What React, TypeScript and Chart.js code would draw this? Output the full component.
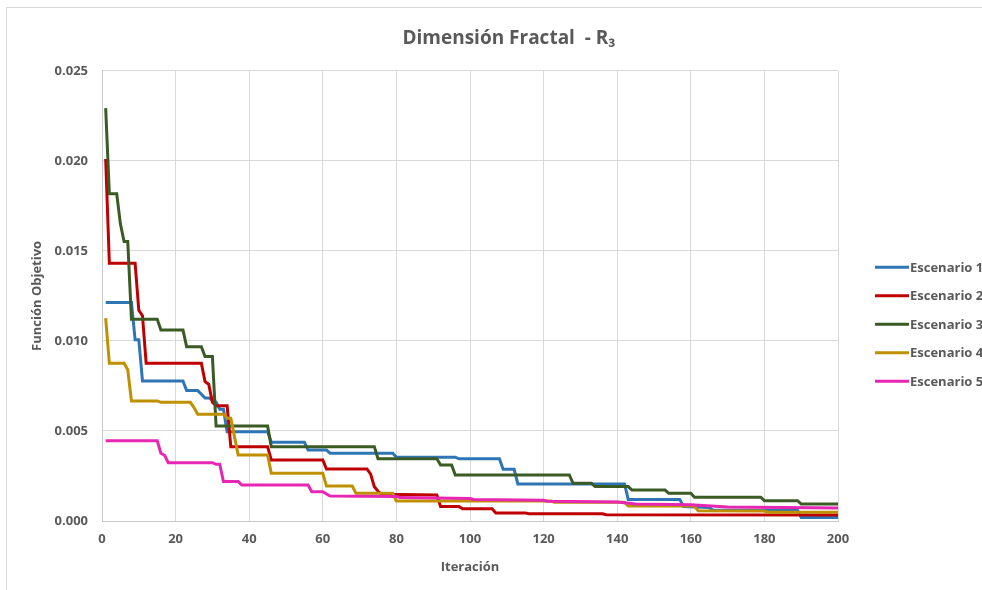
import React, { useEffect, useRef } from 'react';
import { Chart, registerables } from 'chart.js';

Chart.register(...registerables);

const chartTitle = 'Dimensión Fractal  - R₃';
const xTitle = 'Iteración';
const yTitle = 'Función Objetivo';
const seriesNames = ['Escenario 1', 'Escenario 2', 'Escenario 3', 'Escenario 4', 'Escenario 5'];
const seriesColors = ['#2E75B6', '#C00000', '#3B5B25', '#BF9000', '#E826B4'];

// Escenario 1
const s1Iter = [1, 8, 9, 10, 11, 22, 23, 26, 27, 28, 29, 31, 32, 33, 34, 45, 46, 55, 56, 61, 62, 79, 80, 96, 97, 108, 109, 112, 113, 142, 143, 157, 158, 165, 166, 189, 190, 200];
const s1Val = [0.01213, 0.01213, 0.01006, 0.01006, 0.00778, 0.00778, 0.00724, 0.00724, 0.00704, 0.00683, 0.00683, 0.0066, 0.0062, 0.0062, 0.00496, 0.00496, 0.00437, 0.00437, 0.00394, 0.00394, 0.00376, 0.00376, 0.00354, 0.00354, 0.00345, 0.00345, 0.00287, 0.00287, 0.00206, 0.00206, 0.0012, 0.0012, 0.0008, 0.00075, 0.0006, 0.0006, 0.0002, 0.0002];

// Escenario 2
const s2Iter = [1, 2, 9, 10, 11, 12, 27, 28, 29, 30, 31, 34, 35, 45, 46, 60, 61, 72, 73, 74, 75, 76, 91, 92, 97, 98, 106, 107, 115, 116, 136, 137, 200];
const s2Val = [0.0201, 0.01432, 0.01432, 0.0117, 0.0114, 0.00876, 0.00876, 0.00774, 0.0076, 0.0066, 0.0064, 0.0064, 0.00413, 0.00413, 0.00339, 0.00339, 0.00289, 0.00289, 0.0026, 0.0019, 0.00165, 0.00148, 0.00144, 0.0008, 0.0008, 0.00068, 0.00068, 0.00045, 0.00045, 0.0004, 0.0004, 0.00035, 0.00034];

// Escenario 3
const s3Iter = [1, 2, 4, 5, 6, 7, 8, 15, 16, 22, 23, 27, 28, 30, 31, 45, 46, 74, 75, 91, 92, 95, 96, 127, 128, 133, 134, 143, 144, 153, 154, 160, 161, 179, 180, 189, 190, 200];
const s3Val = [0.02293, 0.01817, 0.01817, 0.0165, 0.01552, 0.01552, 0.01121, 0.01121, 0.01061, 0.01061, 0.00968, 0.00968, 0.00913, 0.00913, 0.00528, 0.00528, 0.00413, 0.00413, 0.00346, 0.00346, 0.00311, 0.00311, 0.00256, 0.00256, 0.00209, 0.00209, 0.00191, 0.00191, 0.00172, 0.00172, 0.00154, 0.00154, 0.00132, 0.00132, 0.00113, 0.00113, 0.00094, 0.00094];

// Escenario 4
const s4Iter = [1, 2, 6, 7, 8, 15, 16, 24, 25, 26, 33, 34, 35, 37, 45, 46, 60, 61, 68, 69, 79, 80, 122, 123, 142, 143, 161, 162, 180, 181, 200];
const s4Val = [0.01126, 0.00876, 0.00876, 0.0084, 0.00667, 0.00667, 0.00659, 0.00659, 0.0063, 0.00593, 0.00593, 0.0057, 0.0057, 0.00367, 0.00367, 0.00265, 0.00265, 0.00194, 0.00194, 0.00154, 0.00154, 0.00111, 0.00111, 0.00104, 0.00104, 0.00083, 0.00083, 0.00057, 0.00055, 0.00048, 0.00048];

// Escenario 5
const s5Iter = [1, 15, 16, 17, 18, 30, 31, 32, 33, 37, 38, 56, 57, 60, 61, 62, 80, 81, 100, 101, 120, 121, 140, 145, 160, 170, 200];
const s5Val = [0.00446, 0.00446, 0.00376, 0.00365, 0.00324, 0.00324, 0.00315, 0.00315, 0.00219, 0.00219, 0.002, 0.002, 0.00163, 0.00163, 0.0015, 0.00139, 0.00136, 0.0013, 0.00125, 0.0012, 0.00115, 0.0011, 0.00105, 0.00095, 0.0009, 0.00078, 0.00072];

const seriesIters = [s1Iter, s2Iter, s3Iter, s4Iter, s5Iter];
const seriesVals = [s1Val, s2Val, s3Val, s4Val, s5Val];

const xMin = 0;
const xMax = 200;
const xStep = 20;
const yMin = 0;
const yMax = 0.025;
const yStep = 0.005;

const TEXT = '#595959';
const FONT = '"Open Sans", "Noto Sans", sans-serif';

const rightLegend = {
  id: 'rightLegend',
  afterDraw(chart: any) {
    const { ctx, chartArea } = chart;
    ctx.save();
    chart.data.datasets.forEach((ds: any, i: number) => {
      const y = chartArea.top + 196.5 + i * 28.5;
      const x0 = chartArea.right + 37;
      ctx.strokeStyle = ds.borderColor;
      ctx.lineWidth = 3;
      ctx.beginPath();
      ctx.moveTo(x0, y);
      ctx.lineTo(x0 + 34, y);
      ctx.stroke();
      ctx.fillStyle = TEXT;
      ctx.font = `bold 13px ${FONT}`;
      ctx.textBaseline = 'middle';
      ctx.textAlign = 'left';
      ctx.fillText(ds.label, x0 + 35, y + 0.5);
    });
    ctx.restore();
  },
};

export default function App() {
  const ref = useRef<HTMLCanvasElement | null>(null);

  useEffect(() => {
    if (!ref.current) return;
    const datasets = seriesNames.map((name, i) => ({
      label: name,
      data: seriesIters[i].map((x, k) => ({ x, y: seriesVals[i][k] })),
      borderColor: seriesColors[i],
      backgroundColor: seriesColors[i],
      borderWidth: 3,
      pointRadius: 0,
      tension: 0,
      fill: false,
      order: seriesNames.length - 1 - i,
    }));
    const chart = new Chart(ref.current, {
      type: 'line',
      data: { datasets },
      plugins: [rightLegend],
      options: {
        responsive: false,
        animation: false,
        events: [],
        layout: { padding: 0 },
        plugins: {
          legend: { display: false },
          tooltip: { enabled: false },
          title: {
            display: true,
            text: chartTitle,
            color: TEXT,
            font: { family: FONT, size: 19, weight: 'bold' },
            padding: { top: 19, bottom: 21 },
          },
        },
        scales: {
          x: {
            type: 'linear',
            min: xMin,
            max: xMax,
            afterFit: (s: any) => { s.height = 69; },
            ticks: {
              stepSize: xStep,
              color: TEXT,
              font: { family: FONT, size: 13, weight: 'bold' },
              padding: 10,
              maxRotation: 0,
            },
            grid: { color: '#d9d9d9', lineWidth: 1, drawTicks: false },
            border: { color: '#c8c8c8', width: 1 },
            title: {
              display: true,
              text: xTitle,
              color: TEXT,
              font: { family: FONT, size: 13, weight: 'bold' },
              padding: { top: 0, bottom: 15 },
            },
          },
          y: {
            type: 'linear',
            min: yMin,
            max: yMax,
            afterFit: (s: any) => { s.width = 95; },
            ticks: {
              stepSize: yStep,
              color: TEXT,
              font: { family: FONT, size: 13, weight: 'bold' },
              padding: 14,
              callback: (v: any) => Number(v).toFixed(3),
            },
            grid: { color: '#d9d9d9', lineWidth: 1, drawTicks: false },
            border: { color: '#c8c8c8', width: 1 },
            title: {
              display: true,
              text: yTitle,
              color: TEXT,
              font: { family: FONT, size: 13, weight: 'bold' },
              padding: { top: 22, bottom: 0 },
            },
          },
          legendSpace: {
            type: 'linear',
            position: 'right',
            display: true,
            afterFit: (s: any) => { s.width = 173; },
            ticks: { display: false },
            grid: { display: false, drawTicks: false },
            border: { display: false },
          },
        },
      },
    });
    return () => chart.destroy();
  }, []);

  return (
    <div style={{ position: 'fixed', left: 0, top: 0, width: 982, height: 590, overflow: 'hidden', background: '#fff' }}>
      <div style={{ position: 'absolute', left: 6, top: 7, width: 1100, height: 700, borderLeft: '1px solid #d9d9d9', borderTop: '1px solid #d9d9d9' }}>
        <canvas ref={ref} width={1004} height={582} style={{ display: 'block', width: 1004, height: 582 }} />
      </div>
    </div>
  );
}
